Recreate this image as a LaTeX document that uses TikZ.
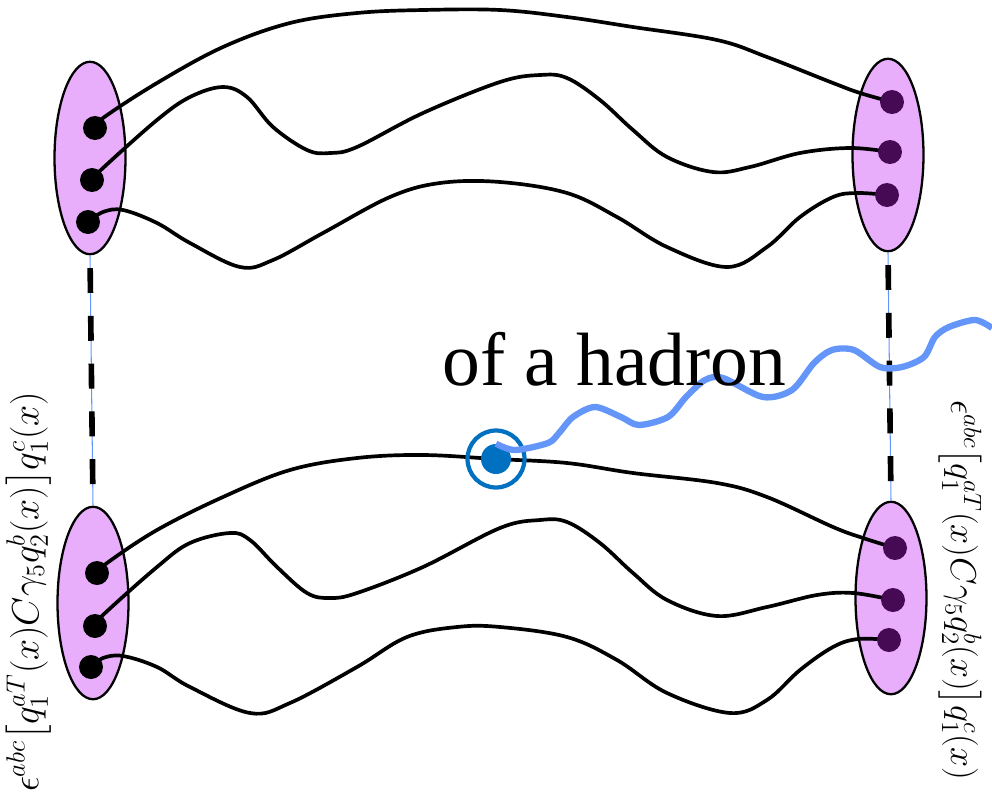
\documentclass[tikz,border=0pt]{standalone}
\usepackage{fontspec}
\usepackage{amsmath}
\newfontfamily\hadronfont{Liberation Serif}
\usetikzlibrary{shapes.geometric}
\definecolor{blobfill}{RGB}{233,174,251}
\definecolor{darkq}{RGB}{70,10,85}
\definecolor{probeblue}{RGB}{0,112,192}
\definecolor{wiggleblue}{RGB}{100,150,250}
\tikzset{
  blob/.style={ellipse, draw=black, line width=1.3pt, fill=blobfill, minimum width=1.42cm, minimum height=3.85cm, inner sep=0pt},
  qleft/.style={circle, fill=black, minimum size=0.48cm, inner sep=0pt},
  qright/.style={circle, fill=darkq, minimum size=0.48cm, inner sep=0pt},
  wire/.style={line width=2.1pt, black},
  link/.style={line width=3.2pt, black, dash pattern=on 14.2pt off 13pt, dash phase=20pt},
  linkthin/.style={line width=0.6pt, wiggleblue},
  op/.style={inner sep=0pt, font=\fontsize{20}{24}\selectfont}
}
\begin{document}
\begin{tikzpicture}[x=0.02cm,y=-0.02cm]
\useasboundingbox (0,0) rectangle (992,802);
% baryon blobs
\node[blob] (L1) at (90,158) {};
\node[blob] (R1) at (888,155) {};
\node[blob] (L2) at (93,603) {};
\node[blob] (R2) at (891,598) {};
% quark positions
\coordinate (a1) at (95,128); \coordinate (a2) at (92,180); \coordinate (a3) at (88,222);
\coordinate (b1) at (892,102); \coordinate (b2) at (890,152); \coordinate (b3) at (887,195);
\coordinate (c1) at (97,573); \coordinate (c2) at (95,626); \coordinate (c3) at (91,667);
\coordinate (d1) at (895,548); \coordinate (d2) at (893,600); \coordinate (d3) at (889,640);
\coordinate (vtx) at (496,459);
% dashed links
\draw[linkthin] (L1.south) -- (L2.north);
\draw[linkthin] (R1.south) -- (R2.north);
\draw[link] (L1.south) -- (L2.north);
\draw[link] (R1.south) -- (R2.north);
% top quark lines
\draw[wire] plot[smooth, tension=0.6] coordinates {(a1) (103,118) (157,83) (223,47) (290,23) (357,13) (423,10) (500,10) (567,17) (633,27) (717,40) (767,57) (833,83) (860,93) (b1)};
\draw[wire] plot[smooth, tension=0.6] coordinates {(a2) (103,168) (157,120) (190,97) (223,87) (247,97) (273,127) (307,150) (330,153) (357,147) (423,113) (500,82) (540,75) (567,78) (600,100) (633,130) (667,157) (713,172) (750,167) (800,153) (850,148) (b2)};
\draw[wire] plot[smooth, tension=0.6] coordinates {(a3) (103,212) (123,210) (157,223) (190,243) (240,267) (273,260) (323,233) (390,197) (440,183) (500,182) (567,193) (617,217) (667,247) (727,267) (767,247) (800,217) (833,197) (857,193) (b3)};
% bottom quark lines
\draw[wire] plot[smooth, tension=0.6] coordinates {(c1) (107,563) (157,530) (223,497) (290,470) (357,458) (423,455) (vtx) (567,463) (633,473) (717,483) (767,497) (833,527) (863,538) (d1)};
\draw[wire] plot[smooth, tension=0.6] coordinates {(c2) (103,615) (157,567) (190,543) (230,533) (250,540) (277,567) (307,593) (330,598) (357,593) (423,567) (500,528) (540,520) (567,522) (600,543) (633,573) (667,600) (717,616) (767,607) (817,595) (853,593) (d2)};
\draw[wire] plot[smooth, tension=0.6] coordinates {(c3) (103,658) (123,656) (157,667) (190,687) (250,713) (290,703) (357,667) (407,637) (457,627) (500,627) (567,637) (617,660) (667,693) (730,713) (767,700) (800,670) (833,647) (858,639) (d3)};
% quarks
\foreach \q in {a1,a2,a3,c1,c2,c3} \node[qleft] (n\q) at (\q) {};
\foreach \q in {b1,b2,b3,d1,d2,d3} \node[qright] (n\q) at (\q) {};
% probe vertex
\node[circle, draw=probeblue, line width=2.4pt, minimum size=1.14cm, inner sep=0pt] (ring) at (vtx) {};
\node[circle, fill=probeblue, minimum size=0.6cm, inner sep=0pt] (core) at (vtx) {};
\coordinate (wend) at (992,328);
\draw[wiggleblue, line width=3.6pt, line join=round] plot[smooth, tension=0.5] coordinates {(core.north) (515,450) (548,443) (559,433) (573,417) (595,407) (621,417) (639,425) (668,417) (686,397) (705,380) (723,378) (763,397) (792,390) (814,363) (832,350) (854,350) (880,367) (902,367) (924,357) (935,337) (949,327) (975,320) (wend)};
% text
\node[anchor=base west, inner sep=0pt, font=\hadronfont\fontsize{43}{50}\selectfont] (title) at (442,385) {of a hadron};
\node[op, rotate=90] (opL) at (29,592) {\resizebox{8.0cm}{!}{$\epsilon^{abc}\big[q_1^{aT}(x)C\gamma_5q_2^b(x)\big]q_1^c(x)$}};
\node[op, rotate=-90] (opR) at (960,590) {\resizebox{7.6cm}{!}{$\epsilon^{abc}\big[q_1^{aT}(x)C\gamma_5q_2^b(x)\big]q_1^c(x)$}};
\end{tikzpicture}
\end{document}
